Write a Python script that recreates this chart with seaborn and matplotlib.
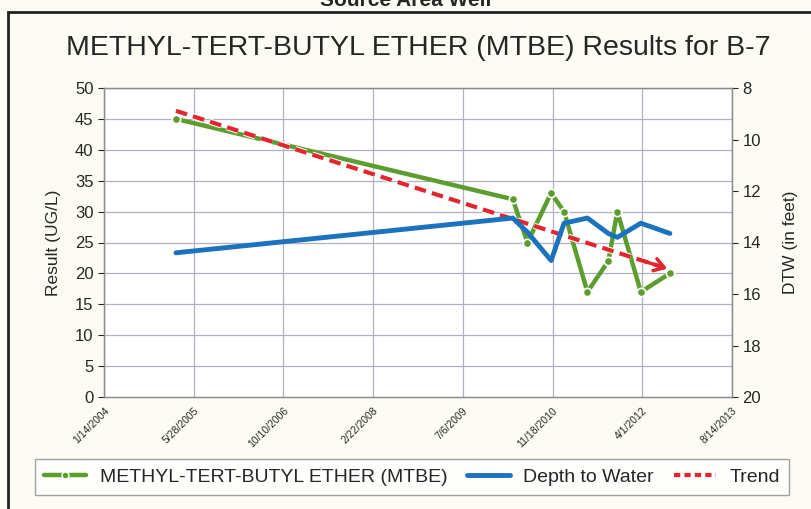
import numpy as np
import pandas as pd
import matplotlib
matplotlib.use("Agg")
import matplotlib.pyplot as plt
import matplotlib.patheffects as pe
from matplotlib.lines import Line2D
from matplotlib.patches import Rectangle
import seaborn as sns

# sample dates
sample_dates = ["2005-02-18", "2010-04-10", "2010-07-01", "2010-11-10", "2011-01-21",
                "2011-05-31", "2011-09-25", "2011-11-14", "2012-03-24", "2012-09-02"]
mtbe = [45, 32, 25, 33, 30, 17, 22, 30, 17, 20]
dtw = [14.4, 13.05, 13.6, 14.7, 13.25, 13.05, 13.65, 13.8, 13.25, 13.65]

tick_labels = ["1/14/2004", "5/28/2005", "10/10/2006", "2/22/2008",
               "7/6/2009", "11/18/2010", "4/1/2012", "8/14/2013"]
left_ticks = [0, 5, 10, 15, 20, 25, 30, 35, 40, 45, 50]
right_ticks = [8, 10, 12, 14, 16, 18, 20]

df = pd.DataFrame({"date": pd.to_datetime(sample_dates), "mtbe": mtbe, "dtw": dtw})
tick_dates = pd.to_datetime(tick_labels, format="%m/%d/%Y")

sns.set_style("white")
plt.rcParams["font.family"] = ["Liberation Sans", "DejaVu Sans"]

GREEN = "#5b9e2e"
BLUE = "#1b72bf"
RED = "#e3262d"
GRID = "#b3afc2"

fig = plt.figure(figsize=(8.12, 5.09), dpi=100, facecolor="#fdfcf4")
ax = fig.add_axes([104 / 812, 1 - 397 / 509, 628 / 812, 309 / 509])
ax.set_facecolor("white")
ax2 = ax.twinx()

# grid
for d in tick_dates:
    ax.axvline(d, color=GRID, lw=0.9, zorder=0)
for v in left_ticks[1:]:
    ax.axhline(v, color=GRID, lw=0.9, zorder=0)

sns.lineplot(data=df, x="date", y="mtbe", ax=ax, color=GREEN, lw=3.2,
             marker="o", markersize=6, markerfacecolor=GREEN,
             markeredgecolor="white", markeredgewidth=1.2, zorder=3)

sns.lineplot(data=df, x="date", y="dtw", ax=ax2, color=BLUE, lw=3.5, zorder=3)

# linear trend of the MTBE results
days = (df["date"] - df["date"].iloc[0]).dt.days.values
k, b = np.polyfit(days, df["mtbe"].values, 1)
trend = k * days + b
ax.plot(df["date"], trend, color=RED, lw=3, ls=(0, (2.8, 1.5)), zorder=4,
        path_effects=[pe.Stroke(linewidth=4.5, foreground="white"), pe.Normal()])
ax.annotate("", xy=(df["date"].iloc[-1], trend[-1]),
            xytext=(df["date"].iloc[-2], trend[-2]),
            arrowprops=dict(arrowstyle="->,head_length=0.7,head_width=0.45",
                            color=RED, lw=2.5), zorder=5)

ax.set_xlim(tick_dates[0], tick_dates[-1])
ax.set_ylim(0, 50)
ax.set_yticks(left_ticks)
ax.set_xticks(tick_dates)
ax.set_xticklabels(tick_labels, rotation=45, ha="right", rotation_mode="anchor", fontsize=7.5)
ax.tick_params(axis="y", labelsize=12, length=4, direction="out", left=True)
ax.tick_params(axis="x", length=0, pad=6)
ax.set_xlabel("")
ax.set_ylabel("Result (UG/L)", fontsize=12.5, labelpad=10)

ax2.set_ylim(20, 8)
ax2.set_yticks(right_ticks)
ax2.tick_params(axis="y", labelsize=12, length=4, direction="out", right=True)
ax2.set_ylabel("DTW (in feet)", fontsize=12.5, rotation=90, labelpad=16)

for a in (ax, ax2):
    for s in a.spines.values():
        s.set_color("#8a8a8a")
        s.set_linewidth(0.9)

ax.set_title("METHYL-TERT-BUTYL ETHER (MTBE) Results for B-7", fontsize=20.5, pad=24)

handles = [
    Line2D([], [], color=GREEN, lw=3.2, marker="o", markersize=5,
           markeredgecolor="white", markeredgewidth=1),
    Line2D([], [], color=BLUE, lw=3.5),
    Line2D([], [], color=RED, lw=3, ls=(0, (1.5, 1))),
]
leg = fig.legend(handles, ["METHYL-TERT-BUTYL ETHER (MTBE)", "Depth to Water", "Trend"],
                 loc="center", bbox_to_anchor=(412 / 812, 1 - 477 / 509), ncol=3,
                 fontsize=14, frameon=True, fancybox=False, handlelength=2.2,
                 columnspacing=1.0, handletextpad=0.7, borderpad=0.45, borderaxespad=0)
leg.get_frame().set_edgecolor("#8a8a8a")
leg.get_frame().set_facecolor("white")

# page frame and cut-off heading
fig.patches.append(Rectangle((8 / 812, -0.02), 1.0, 1 - 12 / 509 + 0.02,
                             transform=fig.transFigure, fill=False,
                             edgecolor="#222222", lw=2))
fig.text(0.5, 1.0, "Source Area Well", ha="center", va="center",
         fontsize=15, fontweight="bold")

fig.savefig("out.png", dpi=100, facecolor=fig.get_facecolor())
